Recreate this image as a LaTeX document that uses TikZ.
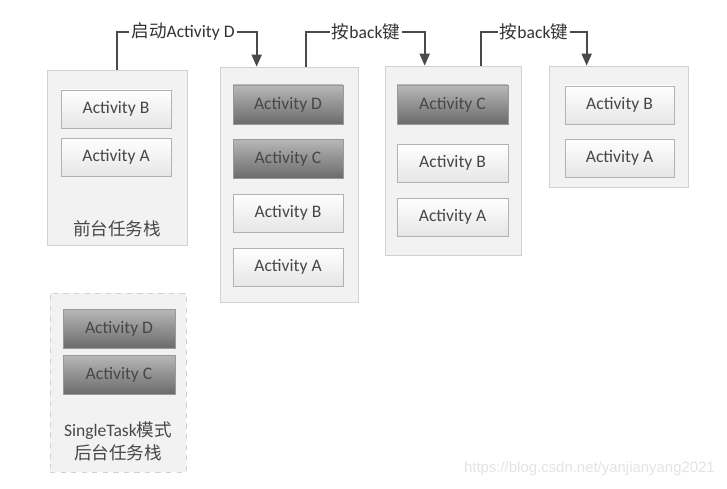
\documentclass[tikz,border=0pt]{standalone}
\usepackage{fontspec}
\setmainfont{Carlito}
\newfontfamily\cjk{Noto Sans CJK SC}
\newfontfamily\urlfont{Liberation Sans}
\usetikzlibrary{positioning,arrows.meta,calc}
\usepackage{xcolor}
\definecolor{linegray}{HTML}{4A4A4A}

\begin{document}
\begin{tikzpicture}[
  x=0.02cm, y=-0.02cm,
  font=\fontsize{10}{12}\selectfont,
  stackbox/.style={draw=black!18, fill=black!5},
  act/.style={draw=black!30, top color=white, bottom color=black!10,
              minimum width=2.2cm, minimum height=0.76cm, text=black!72},
  actdark/.style={draw=black!40, top color=black!28, bottom color=black!58,
                  minimum width=2.2cm, minimum height=0.78cm, text=black!72},
  tag/.style={fill=white, inner sep=1pt, text=black!80},
  conn/.style={line width=1pt, linegray},
  arr/.style={conn, -{Triangle[length=2.4mm, width=2mm]}}
]
\useasboundingbox (0,0) rectangle (727,489);
% ---------------- Stacks ----------------
\node[stackbox, minimum width=2.8cm, minimum height=3.5cm] (s1) at (117,157.5) {};
\node[stackbox, minimum width=2.76cm, minimum height=4.7cm] (s2) at (289,184.5) {};
\node[stackbox, minimum width=2.72cm, minimum height=3.78cm] (s3) at (453,160.5) {};
\node[stackbox, minimum width=2.78cm, minimum height=2.42cm] (s4) at (618.5,126.5) {};
\node[stackbox, dashed, minimum width=2.72cm, minimum height=3.58cm] (s5) at (118,382.5) {};
% ---------------- Foreground task stack ----------------
\node[act] (s1b) at (116,109) {Activity B};
\node[act] (s1a) at (116,157) {Activity A};
\node[text=black!72] (s1t) at (117,229) {\cjk 前台任务栈};
% ---------------- After starting D ----------------
\node[actdark] (s2d) at (288,104.5) {Activity D};
\node[actdark] (s2c) at (288,158.5) {Activity C};
\node[act] (s2b) at (288,213) {Activity B};
\node[act] (s2a) at (288,267) {Activity A};
% ---------------- After first back ----------------
\node[actdark, minimum width=2.22cm] (s3c) at (452.5,104.5) {Activity C};
\node[act, minimum width=2.22cm] (s3b) at (452.5,163) {Activity B};
\node[act, minimum width=2.22cm] (s3a) at (452.5,217) {Activity A};
% ---------------- After second back ----------------
\node[act, minimum width=2.18cm] (s4b) at (619.5,105) {Activity B};
\node[act, minimum width=2.18cm] (s4a) at (619.5,158) {Activity A};
% ---------------- Background task stack ----------------
\node[actdark, minimum width=2.24cm] (s5d) at (119,328.5) {Activity D};
\node[actdark, minimum width=2.24cm] (s5c) at (119,374.5) {Activity C};
\node[align=center, text=black!72, font=\fontsize{10}{13}\selectfont] (s5t) at (118,441)
  {SingleTask{\cjk 模式}\\{\cjk 后台任务栈}};
% ---------------- Transitions ----------------
\node[tag] (l1) at (183,32) {{\cjk 启动}Activity D};
\node[tag] (l2) at (366,32) {{\cjk 按}back{\cjk 键}};
\node[tag] (l3) at (534,32) {{\cjk 按}back{\cjk 键}};
\coordinate (e1) at ($(s2.north west)+(37,0)$);
\coordinate (e2) at ($(s3.north west)+(40,0)$);
\coordinate (e3) at ($(s4.north west)+(38,0)$);
\draw[conn] (s1.north) |- (l1.west);
\draw[arr] (l1.east) -| (e1);
\draw[conn] ([xshift=0.34cm]s2.north) |- (l2.west);
\draw[arr] (l2.east) -| (e2);
\draw[conn] ([xshift=0.56cm]s3.north) |- (l3.west);
\draw[arr] (l3.east) -| (e3);
% watermark
\node[anchor=east, text=black!11, font=\urlfont\fontsize{8.5}{10}\selectfont] (wm) at (721,469)
  {https://blog.csdn.net/yanjianyang2021};
\end{tikzpicture}
\end{document}
